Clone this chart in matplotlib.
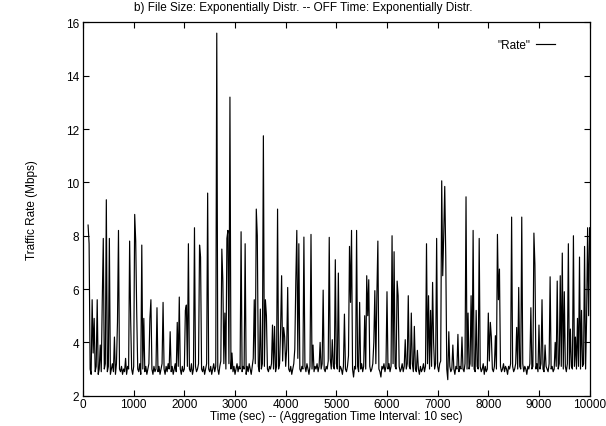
import numpy as np
import matplotlib
matplotlib.use("Agg")
import matplotlib.pyplot as plt

plt.rcParams["font.family"] = ["Liberation Sans", "DejaVu Sans"]

# ─────────────────────────────────────────────
# DATA  (20 s samples from t = 100 s)
# ─────────────────────────────────────────────

T_START = 100
T_STEP = 20

rate_mbps = [
    8.4, 7.7, 3.0, 2.8, 5.6, 3.6, 4.9, 2.9, 3.1, 5.6, 2.8, 3.0, 3.9, 2.9, 5.6, 7.9, 3.0, 3.2, 9.35, 2.9, 3.1, 7.9, 2.8, 3.0, 3.2,
    2.9, 4.2, 2.8, 3.2, 4.75, 8.2, 3.0, 2.9, 3.1, 2.8, 3.0, 2.9, 3.4, 2.8, 3.1, 3.0, 7.8, 4.9, 3.0, 2.8, 3.1, 8.8, 7.8, 5.1, 3.0,
    2.9, 3.2, 2.8, 7.65, 3.0, 4.9, 2.9, 3.1, 2.8, 3.0, 3.2, 4.9, 5.6, 3.0, 2.8, 3.1, 2.9, 3.0, 5.3, 2.9, 3.1, 2.8, 3.0, 3.2, 5.5,
    3.0, 2.8, 3.1, 2.9, 3.2, 3.0, 4.4, 2.9, 3.1, 2.8, 3.0, 3.2, 2.9, 4.75, 3.1, 5.7, 3.0, 2.8, 3.1, 2.9, 3.0, 5.2, 5.4, 3.1, 7.7,
    3.0, 2.9, 3.2, 2.8, 3.0, 8.3, 3.1, 2.9, 3.0, 3.2, 7.65, 7.2, 3.0, 2.9, 3.1, 2.8, 3.0, 3.2, 9.6, 3.0, 2.9, 3.1, 2.8, 3.0, 3.2,
    2.9, 3.1, 15.6, 3.0, 2.8, 3.1, 3.3, 7.5, 6.3, 3.2, 5.1, 3.0, 7.9, 8.2, 3.2, 13.2, 3.0, 3.6, 2.9, 3.1, 2.8, 3.0, 3.2, 2.9, 3.1,
    3.0, 8.15, 2.9, 3.1, 3.0, 7.7, 2.8, 3.1, 2.9, 3.2, 3.0, 2.8, 3.1, 3.4, 5.6, 3.2, 9.0, 8.0, 3.1, 2.9, 5.25, 3.0, 3.2, 11.75, 3.1,
    5.6, 5.0, 3.0, 2.9, 3.1, 3.0, 3.2, 4.65, 3.0, 4.6, 2.9, 3.1, 9.0, 3.0, 3.2, 4.5, 6.5, 3.3, 4.56, 4.2, 3.1, 3.75, 6.06, 3.0, 2.9,
    3.1, 2.8, 3.0, 3.2, 3.75, 6.3, 8.2, 3.4, 7.7, 3.0, 2.9, 3.1, 3.0, 7.95, 3.1, 2.9, 3.2, 3.0, 2.8, 3.1, 8.05, 3.0, 3.9, 2.9, 3.1,
    3.0, 3.2, 2.9, 3.1, 4.0, 3.0, 3.2, 5.96, 3.0, 2.9, 3.1, 3.0, 3.3, 7.94, 3.4, 3.0, 4.1, 3.1, 3.0, 7.1, 3.2, 3.0, 6.6, 2.9, 3.1,
    3.0, 2.8, 3.1, 5.06, 3.0, 2.9, 3.1, 3.5, 7.6, 5.5, 8.2, 3.0, 2.7, 3.1, 3.0, 8.2, 3.1, 2.9, 5.5, 3.0, 3.2, 2.9, 3.1, 5.0, 3.0,
    6.5, 5.0, 6.35, 3.1, 2.9, 3.0, 3.2, 4.0, 5.94, 3.2, 5.75, 7.8, 3.0, 2.9, 2.7, 3.1, 3.0, 3.2, 2.9, 3.1, 5.9, 3.0, 3.2, 2.9, 3.1,
    8.0, 3.2, 7.4, 3.1, 3.0, 6.3, 5.75, 3.1, 2.9, 3.0, 3.2, 2.9, 3.1, 4.1, 3.0, 3.2, 5.75, 3.1, 3.0, 5.1, 3.2, 2.9, 4.6, 3.0, 2.9,
    3.7, 3.0, 2.8, 3.1, 2.9, 3.0, 3.2, 2.9, 3.1, 7.7, 3.2, 5.75, 3.0, 5.2, 3.1, 6.25, 4.0, 3.0, 3.2, 7.9, 3.1, 2.9, 3.2, 3.3, 10.06,
    6.5, 8.04, 9.85, 7.25, 3.0, 2.6, 4.4, 3.1, 2.9, 3.0, 3.9, 3.0, 2.8, 3.1, 3.0, 4.3, 2.9, 3.1, 3.0, 4.2, 3.0, 2.9, 3.2, 9.46, 3.0,
    5.1, 3.0, 3.2, 5.75, 3.1, 8.2, 3.0, 2.9, 5.2, 3.1, 3.0, 7.9, 3.1, 2.9, 3.0, 3.2, 2.8, 3.1, 2.9, 3.0, 5.1, 3.3, 4.75, 4.2, 3.0,
    2.9, 3.1, 4.25, 3.0, 8.05, 5.6, 6.75, 3.1, 2.9, 3.0, 3.2, 2.9, 3.1, 3.0, 2.8, 3.1, 3.0, 3.2, 8.7, 3.1, 2.9, 3.0, 3.2, 4.56, 3.0,
    6.06, 3.1, 3.0, 8.7, 3.2, 2.9, 3.1, 3.0, 2.8, 3.1, 3.0, 3.2, 5.3, 3.0, 3.1, 8.1, 6.9, 3.0, 3.2, 2.9, 4.65, 3.0, 3.2, 5.6, 3.0,
    2.9, 3.9, 3.1, 3.0, 2.9, 3.2, 6.46, 3.0, 3.1, 2.9, 3.0, 4.0, 3.1, 6.3, 3.0, 3.2, 6.5, 3.1, 7.35, 3.0, 5.9, 3.1, 2.9, 3.2, 7.7,
    3.0, 4.5, 3.1, 3.0, 8.0, 3.1, 4.2, 3.0, 4.9, 3.1, 7.2, 3.0, 5.2, 3.1, 3.2, 7.6, 3.0, 4.9, 8.3, 5.0, 8.3,
]

time_sec = T_START + T_STEP * np.arange(len(rate_mbps))

X_TICKS = list(range(0, 10001, 1000))
Y_TICKS = list(range(2, 17, 2))

FS = 8.5

# ─────────────────────────────────────────────
# PLOT
# ─────────────────────────────────────────────

fig = plt.figure(figsize=(6.06, 4.27), dpi=100)
ax = fig.add_axes([0.137, 0.071, 0.836, 0.874])

ax.plot(time_sec, rate_mbps, color="black", linewidth=0.85, label='"Rate"')

ax.set_xlim(0, 10000)
ax.set_ylim(2, 16)
ax.set_xticks(X_TICKS)
ax.set_yticks(Y_TICKS)
ax.tick_params(direction="in", top=True, right=True, length=4, width=0.8,
               labelsize=FS, pad=3)
ax.tick_params(axis="x", pad=2)
for s in ax.spines.values():
    s.set_linewidth(0.9)

# gnuplot centres the title on the whole canvas
fig.text(0.5, 0.981, "b) File Size: Exponentially Distr. -- OFF Time: Exponentially Distr.",
         fontsize=FS, ha="center", va="center")
ax.set_xlabel("Time (sec) -- (Aggregation Time Interval: 10 sec)", fontsize=FS, labelpad=-0.5)
ax.set_ylabel("Traffic Rate (Mbps)", fontsize=FS, labelpad=20)

ax.legend(loc="upper right", bbox_to_anchor=(0.953, 0.985), frameon=False,
          markerfirst=False, fontsize=FS, handlelength=1.6, handletextpad=0.5,
          borderaxespad=0.5)

plt.savefig("out.png", dpi=100)
plt.close()
